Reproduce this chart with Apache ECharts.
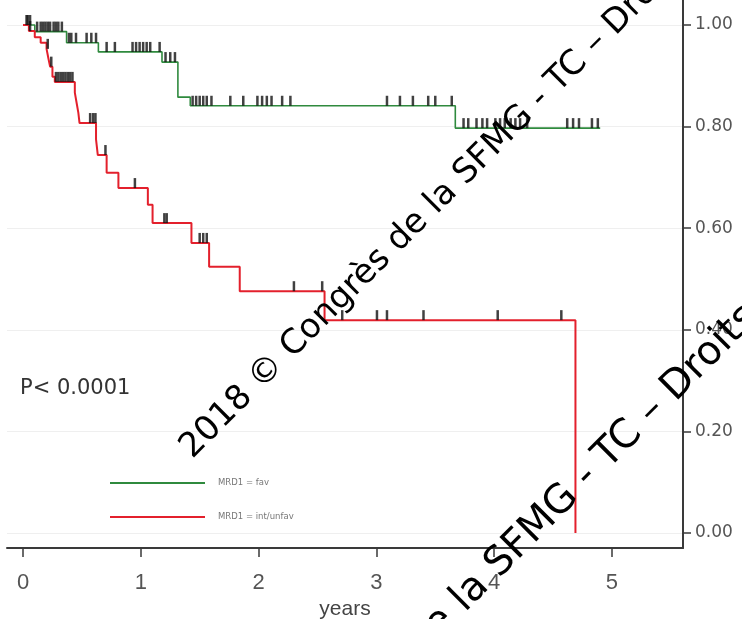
<!DOCTYPE html>
<html>
<head>
<meta charset="utf-8">
<script src="https://cdn.jsdelivr.net/npm/echarts@6/dist/echarts.min.js"></script>
<style>
  html, body { margin: 0; padding: 0; background: #ffffff; }
  #chart { width: 742px; height: 619px; }
</style>
</head>
<body>
<div id="chart"></div>
<script>
// Kaplan–Meier curves by MRD1 group: event times (years) and survival after each step
const favName = 'MRD1 = fav';
const favTimes = [0, 0.10, 0.37, 0.64, 1.18, 1.315, 1.42, 3.67, 4.90];
const favSurv  = [1.000, 0.987, 0.965, 0.947, 0.927, 0.858, 0.841, 0.797, 0.797];

const unfavName = 'MRD1 = int/unfav';
const unfavTimes = [0, 0.05, 0.10, 0.15, 0.20, 0.215, 0.23, 0.25, 0.27, 0.44, 0.455, 0.47, 0.48,
                    0.62, 0.635, 0.71, 0.81, 1.06, 1.10, 1.43, 1.58, 1.84, 2.56, 4.69];
const unfavSurv  = [1.000, 0.988, 0.976, 0.965, 0.953, 0.935, 0.918, 0.898, 0.888, 0.867, 0.847, 0.827, 0.807,
                    0.775, 0.744, 0.709, 0.679, 0.646, 0.610, 0.571, 0.524, 0.476, 0.419, 0.000];

// Censoring times (years)
const favCensored = [0.04, 0.06, 0.12, 0.15, 0.17, 0.19, 0.21, 0.23, 0.26, 0.28, 0.30, 0.33,
                     0.39, 0.41, 0.45, 0.54, 0.58, 0.62, 0.71, 0.78, 0.93, 0.96, 0.99, 1.02, 1.05, 1.08, 1.16,
                     1.21, 1.25, 1.29, 1.44, 1.47, 1.50, 1.53, 1.56, 1.60, 1.76, 1.87, 1.99, 2.03, 2.07, 2.11,
                     2.20, 2.27, 3.09, 3.20, 3.31, 3.44, 3.50, 3.64, 3.74, 3.78, 3.85, 3.90, 3.94, 4.01,
                     4.05, 4.09, 4.14, 4.18, 4.22, 4.28, 4.62, 4.67, 4.72, 4.83, 4.88];
const unfavCensored = [0.03, 0.06, 0.21, 0.24, 0.28, 0.30, 0.32, 0.34, 0.36, 0.38, 0.40, 0.42,
                       0.57, 0.595, 0.615, 0.70, 0.95, 1.20, 1.22, 1.50, 1.53, 1.56, 2.30, 2.54,
                       2.71, 3.005, 3.09, 3.40, 4.03, 4.57];

// Axis ticks
const xTickValues = [0, 1, 2, 3, 4, 5];
const yTickValues = [0, 0.2, 0.4, 0.6, 0.8, 1.0];
const yTickLabels = ['0.00', '0.20', '0.40', '0.60', '0.80', '1.00'];

const pValueText = 'P< 0.0001';
const xTitle = 'years';
const watermarkText = '2018 © Congrès de la SFMG - TC – Droits réservés';

// survival value of a step curve at time t
function survAt(times, surv, t) {
  let s = surv[0];
  for (let i = 0; i < times.length; i++) {
    if (times[i] <= t) s = surv[i]; else break;
  }
  return s;
}
const pairs = (ts, ss) => ts.map((t, i) => [t, ss[i]]);
const censorPoints = (cts, ts, ss) => cts.map(t => [t, survAt(ts, ss, t)]);

const GREEN = '#2f8a3e';
const RED = '#e3202c';
const AXIS = '#3a3a3a';

const chart = echarts.init(document.getElementById('chart'), null, { renderer: 'canvas' });

const censorStyle = {
  type: 'scatter',
  symbol: 'rect',
  symbolSize: [2.5, 10],
  symbolOffset: [0, -5],
  itemStyle: { color: '#111111' },
  silent: true,
  z: 4
};

const watermarkStyle = size => ({
  text: watermarkText, fontSize: size, fill: '#000000', fontFamily: 'DejaVu Sans',
  align: 'left', verticalAlign: 'middle'
});

chart.setOption({
  animation: false,
  backgroundColor: '#ffffff',
  grid: { left: 7, right: 59, top: 0, bottom: 71, containLabel: false, outerBoundsMode: 'none' },
  xAxis: {
    type: 'value',
    min: -0.1358,
    max: 5.603,
    axisLine: { show: true, onZero: false, lineStyle: { color: AXIS, width: 2 } },
    axisTick: { show: true, customValues: xTickValues, length: 9, lineStyle: { color: AXIS, width: 1.5 } },
    axisLabel: {
      customValues: xTickValues,
      formatter: v => String(v),
      fontSize: 22, color: '#555555', margin: 24, fontFamily: 'Liberation Sans'
    },
    splitLine: { show: false },
    name: xTitle,
    nameLocation: 'middle',
    nameGap: 46,
    nameTextStyle: { fontSize: 21, color: '#444444', fontFamily: 'Liberation Sans' }
  },
  yAxis: {
    type: 'value',
    position: 'right',
    min: -0.02953,
    max: 1.0492,
    axisLine: { show: true, onZero: false, lineStyle: { color: AXIS, width: 2 } },
    axisTick: { show: true, customValues: yTickValues, length: 8, lineStyle: { color: AXIS, width: 1.5 } },
    axisLabel: {
      customValues: yTickValues,
      formatter: v => yTickLabels[yTickValues.findIndex(y => Math.abs(y - v) < 1e-6)] || '',
      fontSize: 17, color: '#555555', margin: 12, fontFamily: 'DejaVu Sans'
    },
    splitLine: { show: true, lineStyle: { color: '#efefef', width: 1 } }
  },
  legend: {
    data: [favName, unfavName],
    orient: 'vertical',
    left: 105,
    top: 473,
    itemWidth: 95,
    itemHeight: 2,
    itemGap: 24,
    icon: 'rect',
    selectedMode: false,
    textStyle: { fontSize: 8.5, color: '#777777', fontFamily: 'DejaVu Sans', lineHeight: 10, padding: [0, 0, 0, 8] }
  },
  series: [
    {
      name: favName, type: 'line', step: 'end', showSymbol: false,
      data: pairs(favTimes, favSurv),
      lineStyle: { color: GREEN, width: 1.6 }, itemStyle: { color: GREEN }, z: 2
    },
    {
      name: unfavName, type: 'line', step: 'end', showSymbol: false,
      data: pairs(unfavTimes, unfavSurv),
      lineStyle: { color: RED, width: 2 }, itemStyle: { color: RED }, z: 3
    },
    Object.assign({ name: favName + ' censored', data: censorPoints(favCensored, favTimes, favSurv) }, censorStyle),
    Object.assign({ name: unfavName + ' censored', data: censorPoints(unfavCensored, unfavTimes, unfavSurv) }, censorStyle)
  ],
  graphic: [
    {
      type: 'text', x: 20, y: 389, z: 50,
      style: { text: pValueText, fontSize: 21, fill: '#333333', fontFamily: 'DejaVu Sans', align: 'left', verticalAlign: 'middle' }
    },
    { type: 'text', x: 186, y: 453, rotation: Math.PI / 4, z: 100, silent: true, style: watermarkStyle(34) },
    { type: 'text', x: 170, y: 893, rotation: Math.PI / 4, z: 100, silent: true, style: watermarkStyle(40) }
  ]
});
</script>
</body>
</html>
